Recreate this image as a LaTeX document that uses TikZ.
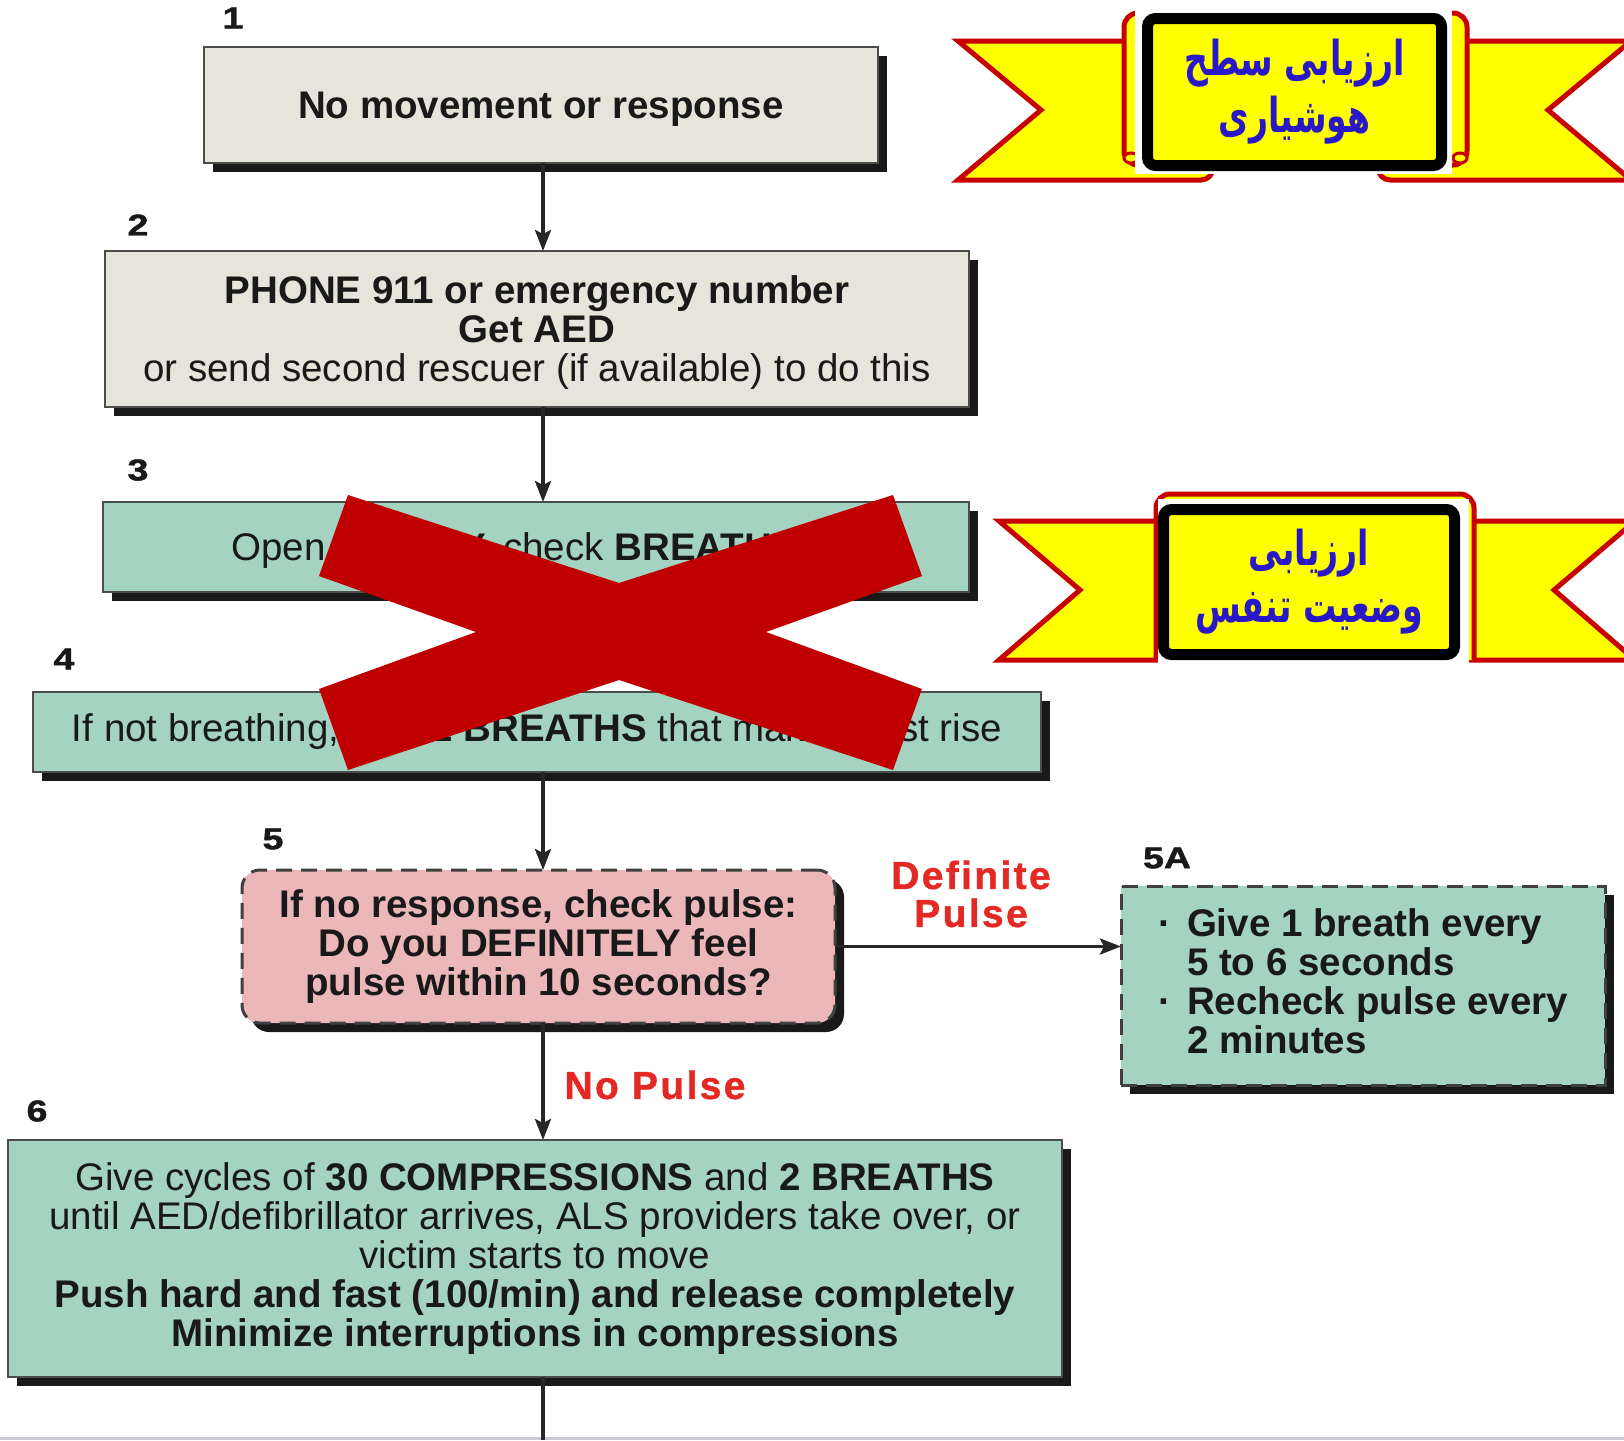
\documentclass[tikz,border=0pt]{standalone}
\usepackage{fontspec}
\setmainfont{Liberation Sans}
\newfontfamily\arabicfont[Script=Arabic,FakeStretch=0.69]{DejaVu Sans}
\newfontfamily\heavyfont[FakeStretch=1.25,FakeBold=1.5]{Liberation Sans}
\newfontfamily\spacedfont[LetterSpace=6,FakeBold=1]{Liberation Sans}
\TeXXeTstate=1
\usetikzlibrary{arrows.meta,shadows}
\definecolor{boxgray}{RGB}{230,228,219}
\definecolor{boxteal}{RGB}{164,211,193}
\definecolor{boxpink}{RGB}{235,183,185}
\definecolor{xred}{RGB}{192,0,0}
\definecolor{lblred}{RGB}{228,40,36}
\definecolor{ribred}{RGB}{200,0,0}
\definecolor{ribyellow}{RGB}{255,255,0}
\definecolor{arblue}{RGB}{40,24,200}
\definecolor{stripgray}{RGB}{200,204,208}
\begin{document}
\begin{tikzpicture}[x=1pt,y=-1pt,
  every node/.style={inner sep=0pt,outer sep=0pt},
  txt/.style={font=\fontsize{38.5}{39}\selectfont,align=center,text=black!90},
  flow/.style={txt,rectangle,draw=black!70,line width=2pt,
    drop shadow={shadow xshift=9pt,shadow yshift=-9pt,fill=black!90,opacity=1}},
  graybox/.style={flow,fill=boxgray},
  tealbox/.style={flow,fill=boxteal},
  dashbox/.style={line width=3pt,draw=black!75,dash pattern=on 16pt off 9pt},
  num/.style={font=\heavyfont\bfseries\fontsize{30}{30}\selectfont,text=black!90},
  lbl/.style={font=\spacedfont\bfseries\fontsize{39}{38}\selectfont,text=lblred,align=center},
  arr/.style={line width=3.5pt,draw=black!85,-{Stealth[length=21pt,width=16pt,inset=4pt]}},
  plainline/.style={line width=3.5pt,draw=black!85},
  tail/.style={fill=ribyellow,draw=ribred,line width=5pt,line join=miter},
  frame/.style={fill=ribyellow,draw=ribred,line width=5pt,rounded corners=14pt},
  plaque/.style={fill=ribyellow,draw=black,line width=11pt,rounded corners=8pt,align=center,
    font=\arabicfont\bfseries\fontsize{48}{57}\selectfont,text=arblue}]
\useasboundingbox (0,0) rectangle (1624,1440);
\clip (0,0) rectangle (1624,1440);
\fill[white] (0,0) rectangle (1624,1440);
\fill[stripgray] (0,1437) rectangle (1624,1440);
\coordinate (axis) at (543,0);
\coordinate (bot) at (543,1440);

% flow boxes
\node[graybox,text depth=0pt,minimum width=674pt,minimum height=116pt] (b1) at (541,105) {\textbf{No movement or response}};
\node[graybox,text depth=0pt,minimum width=864pt,minimum height=156pt] (b2) at (537,329)
  {\textbf{PHONE 911 or emergency number}\\\textbf{Get AED}\\or send second rescuer (if available) to do this};
\node[tealbox,text depth=0pt,minimum width=866pt,minimum height=90pt] (b3) at (536,547)
  {Open \textbf{AIRWAY,} check \textbf{BREATHING}};
\node[tealbox,minimum width=1008pt,minimum height=80pt] (b4) at (537,732)
  {If not breathing, give \textbf{2 BREATHS} that make chest rise};
\node[flow,fill=boxpink,dashbox,rounded corners=18pt,minimum width=593pt,minimum height=153pt] (b5) at (538.5,946.5)
  {\textbf{If no response, check pulse:}\\\textbf{Do you DEFINITELY feel}\\\textbf{pulse within 10 seconds?}};
\node[flow,fill=boxteal,dashbox,align=left,text depth=8pt,minimum width=484pt,minimum height=199pt] (b5a) at (1363,985.5)
  {\textbf{\makebox[29pt][l]{·}Give 1 breath every}\\\textbf{\hspace*{29pt}5 to 6 seconds}\\\textbf{\makebox[29pt][l]{·}Recheck pulse every}\\\textbf{\hspace*{29pt}2 minutes}};
\node[tealbox,minimum width=1054pt,minimum height=237pt] (b6) at (535,1258.5)
  {Give cycles of \textbf{30 COMPRESSIONS} and \textbf{2 BREATHS}\\
   until AED/defibrillator arrives, ALS providers take over, or\\
   victim starts to move\\
   \textbf{Push hard and fast (100/min) and release completely}\\
   \textbf{Minimize interruptions in compressions}};

% step numbers
\node[num] (n1) at (233,18) {1};
\node[num] (n2) at (138,225) {2};
\node[num] (n3) at (138,470) {3};
\node[num] (n4) at (64,659) {4};
\node[num] (n5) at (273,839) {5};
\node[num] (n5a) at (1167,858) {5A};
\node[num] (n6) at (37,1111) {6};

% branch labels
\node[lbl] (ldef) at (971,894) {Definite\\Pulse};
\node[lbl] (lno) at (655,1085) {No Pulse};

% connectors
\draw[arr] (b1.south -| axis) -- (b2.north -| axis);
\draw[arr] (b2.south -| axis) -- (b3.north -| axis);
\draw[arr] (b4.south -| axis) -- (b5.north -| axis);
\draw[arr] (b5.south -| axis) -- (b6.north -| axis);
\draw[arr] (b5.east) -- (b5.east -| b5a.west);
\draw[plainline] (b6.south -| axis) -- (bot);

% red cross
\fill[xred] (348,495) -- (619,583) -- (893,495) -- (922,576) -- (766,632) -- (922,689)
  -- (893,770) -- (619,680) -- (348,770) -- (319,689) -- (476,632) -- (319,576) -- cycle;

% ribbon 1
\draw[tail] (958,41) -- (1213,41) -- (1213,168) arc[start angle=0,end angle=-90,radius=12pt] -- (958,180) -- (1041,110) -- cycle;
\draw[tail] (1631,41) -- (1378,41) -- (1378,168) arc[start angle=180,end angle=270,radius=12pt] -- (1631,180) -- (1548,110) -- cycle;
\draw[frame] (1124,13) rectangle (1467,165);
\draw[fill=ribyellow,draw=ribred,line width=3pt] (1131,158) ellipse [x radius=7pt,y radius=5pt];
\draw[fill=ribyellow,draw=ribred,line width=3pt] (1460,158) ellipse [x radius=7pt,y radius=5pt];
\fill[white] (1135,8) rectangle (1452,174);
\node[plaque,minimum width=294pt,minimum height=147pt] (p1) at (1294.5,92)
  {\beginR ارزیابی سطح\endR\\\beginR هوشیاری\endR};

% ribbon 2
\draw[tail] (999,521) -- (1200,521) -- (1200,660) -- (999,660) -- (1080,590) -- cycle;
\draw[tail] (1635,521) -- (1420,521) -- (1420,660) -- (1635,660) -- (1554,590) -- cycle;
\filldraw[frame] (1156,660) -- (1156,494) -- (1474,494) -- (1474,660);
\fill[white] (1158,499) rectangle (1469,668);
\node[plaque,minimum width=291pt,minimum height=145pt] (p2) at (1309,582)
  {\beginR ارزیابی\endR\\\beginR وضعیت تنفس\endR};
\end{tikzpicture}
\end{document}
